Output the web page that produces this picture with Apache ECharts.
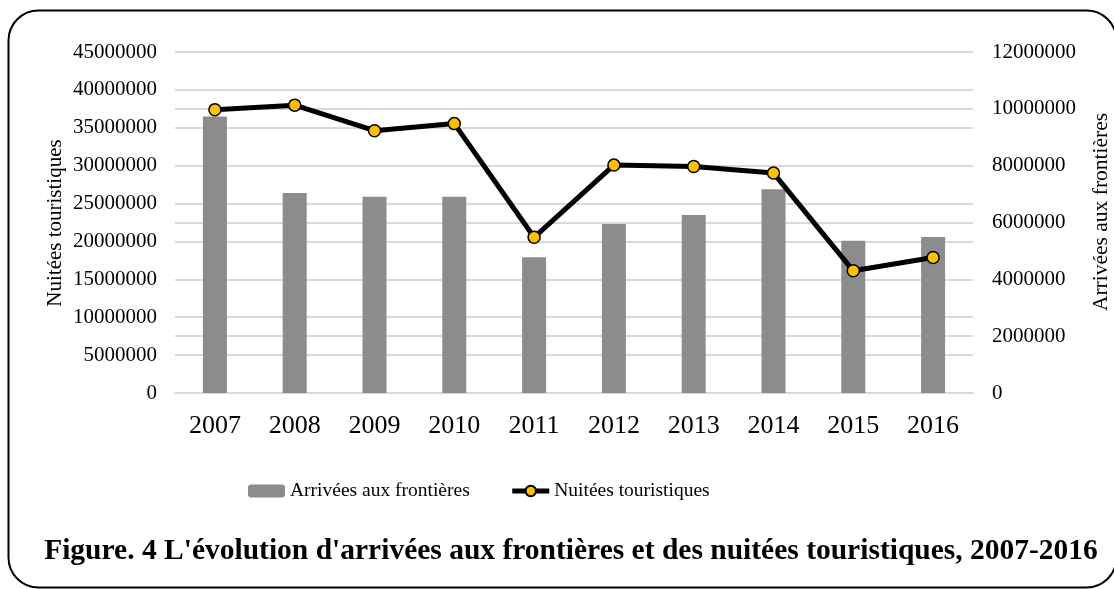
<!DOCTYPE html>
<html>
<head>
<meta charset="utf-8">
<script src="https://cdn.jsdelivr.net/npm/echarts@6/dist/echarts.min.js"></script>
<style>
  html, body { margin: 0; padding: 0; background: #fff; }
  #chart { width: 1114px; height: 589px; }
</style>
</head>
<body>
<div id="chart"></div>
<script>
var years = ['2007', '2008', '2009', '2010', '2011', '2012', '2013', '2014', '2015', '2016'];
// barres (axe de gauche)
var arrivees = [36500000, 26400000, 25900000, 25900000, 17900000, 22300000, 23500000, 26900000, 20100000, 20600000];
// ligne (axe de droite)
var nuitees = [9970000, 10130000, 9230000, 9480000, 5480000, 8020000, 7970000, 7740000, 4300000, 4770000];

var leftMax = 45000000, leftStep = 5000000;
var rightMax = 12000000, rightStep = 2000000;

var serif = "'Liberation Serif', 'Times New Roman', serif";
var chart = echarts.init(document.getElementById('chart'));

function plain(v) { return String(v); }

var option = {
  animation: false,
  textStyle: { fontFamily: serif },
  grid: { left: 175, right: 141, top: 52, bottom: 196, containLabel: false },
  legend: {
    top: 476,
    left: 243,
    itemWidth: 37,
    itemHeight: 13,
    itemGap: 40,
    textStyle: { fontFamily: serif, fontSize: 19.5, color: '#000' },
    lineStyle: { width: 5 },
    data: ['Arrivées aux frontières', 'Nuitées touristiques']
  },
  xAxis: {
    type: 'category',
    data: years,
    axisLine: { lineStyle: { color: '#d9d9d9', width: 2 } },
    axisTick: { show: false },
    axisLabel: { fontFamily: serif, fontSize: 26, color: '#000', margin: 20 }
  },
  yAxis: [{
    type: 'value',
    min: 0,
    max: leftMax,
    interval: leftStep,
    axisLine: { show: false },
    axisTick: { show: false },
    axisLabel: { fontFamily: serif, fontSize: 21, color: '#000', margin: 18, formatter: plain },
    splitLine: { lineStyle: { color: '#d9d9d9', width: 2 } }
  }, {
    type: 'value',
    min: 0,
    max: rightMax,
    interval: rightStep,
    position: 'right',
    axisLine: { show: false },
    axisTick: { show: false },
    axisLabel: { fontFamily: serif, fontSize: 21, color: '#000', margin: 19, formatter: plain },
    splitLine: { lineStyle: { color: '#d9d9d9', width: 2 } }
  }],
  series: [{
    name: 'Arrivées aux frontières',
    type: 'bar',
    yAxisIndex: 0,
    barWidth: 24,
    itemStyle: { color: '#8c8c8c' },
    data: arrivees
  }, {
    name: 'Nuitées touristiques',
    type: 'line',
    yAxisIndex: 1,
    symbol: 'circle',
    symbolSize: 12,
    lineStyle: { color: '#000', width: 5 },
    itemStyle: { color: '#ffc000', borderColor: '#000', borderWidth: 1.5 },
    data: nuitees,
    z: 5
  }],
  graphic: [{
    type: 'rect',
    shape: { x: 8.5, y: 10.5, width: 1108, height: 577, r: 30 },
    style: { fill: 'none', stroke: '#000', lineWidth: 2 },
    silent: true
  }, {
    type: 'text',
    x: 55, y: 223,
    rotation: Math.PI / 2,
    style: { text: 'Nuitées touristiques', font: '21px ' + serif, fill: '#000', align: 'center', verticalAlign: 'middle' }
  }, {
    type: 'text',
    x: 1101, y: 212,
    rotation: Math.PI / 2,
    style: { text: 'Arrivées aux frontières', font: '21.5px ' + serif, fill: '#000', align: 'center', verticalAlign: 'middle' }
  }, {
    type: 'text',
    x: 571, y: 551,
    style: { text: "Figure. 4 L'évolution d'arrivées aux frontières et des nuitées touristiques, 2007-2016", font: 'bold 29.5px ' + serif, fill: '#000', align: 'center', verticalAlign: 'middle' }
  }]
};

chart.setOption(option);
</script>
</body>
</html>
